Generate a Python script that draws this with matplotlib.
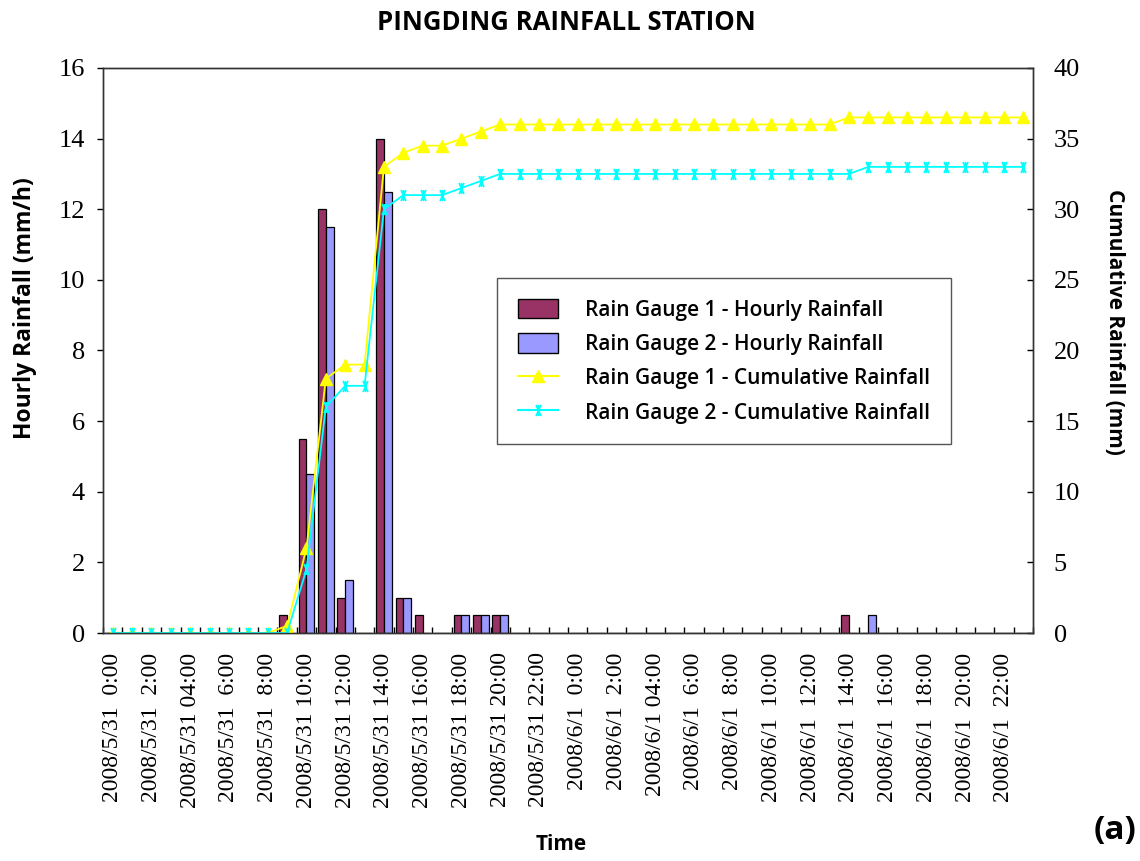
import numpy as np
import matplotlib
matplotlib.use("Agg")
import matplotlib.pyplot as plt
from matplotlib.path import Path
from matplotlib.patches import Patch
from matplotlib.lines import Line2D

# hourly categories 2008/5/31 00:00 .. 2008/6/1 23:00 (48 bins), label every 2 h
tick_labels = ["2008/5/31  0:00", "2008/5/31  2:00", "2008/5/31 04:00", "2008/5/31  6:00",
               "2008/5/31  8:00", "2008/5/31 10:00", "2008/5/31 12:00", "2008/5/31 14:00",
               "2008/5/31 16:00", "2008/5/31 18:00", "2008/5/31 20:00", "2008/5/31 22:00",
               "2008/6/1  0:00", "2008/6/1  2:00", "2008/6/1 04:00", "2008/6/1  6:00",
               "2008/6/1  8:00", "2008/6/1  10:00", "2008/6/1  12:00", "2008/6/1  14:00",
               "2008/6/1  16:00", "2008/6/1  18:00", "2008/6/1  20:00", "2008/6/1  22:00"]

gauge1_hourly = [0, 0, 0, 0, 0, 0, 0, 0, 0, 0.5,
                 5.5, 12, 1, 0, 14, 1, 0.5, 0, 0.5, 0.5,
                 0.5, 0, 0, 0, 0, 0, 0, 0, 0, 0,
                 0, 0, 0, 0, 0, 0, 0, 0, 0.5, 0,
                 0, 0, 0, 0, 0, 0, 0, 0]
gauge2_hourly = [0, 0, 0, 0, 0, 0, 0, 0, 0, 0,
                 4.5, 11.5, 1.5, 0, 12.5, 1, 0, 0, 0.5, 0.5,
                 0.5, 0, 0, 0, 0, 0, 0, 0, 0, 0,
                 0, 0, 0, 0, 0, 0, 0, 0, 0, 0.5,
                 0, 0, 0, 0, 0, 0, 0, 0]
gauge1_cum = [0, 0, 0, 0, 0, 0, 0, 0, 0, 0.5,
              6, 18, 19, 19, 33, 34, 34.5, 34.5, 35, 35.5,
              36, 36, 36, 36, 36, 36, 36, 36, 36, 36,
              36, 36, 36, 36, 36, 36, 36, 36, 36.5, 36.5,
              36.5, 36.5, 36.5, 36.5, 36.5, 36.5, 36.5, 36.5]
gauge2_cum = [0, 0, 0, 0, 0, 0, 0, 0, 0, 0,
              4.5, 16, 17.5, 17.5, 30, 31, 31, 31, 31.5, 32,
              32.5, 32.5, 32.5, 32.5, 32.5, 32.5, 32.5, 32.5, 32.5, 32.5,
              32.5, 32.5, 32.5, 32.5, 32.5, 32.5, 32.5, 32.5, 32.5, 33,
              33, 33, 33, 33, 33, 33, 33, 33]

MAROON, LAV, YEL, CYAN = "#993366", "#9999ff", "#ffff00", "#00ffff"
SANS = "Open Sans"
SERIF = "Liberation Serif"

# excel-like "star" marker: an x with a vertical stroke
star = Path([(-0.45, -1), (0.45, 1), (-0.45, 1), (0.45, -1), (0, -1), (0, 1)],
            [Path.MOVETO, Path.LINETO] * 3)

fig = plt.figure(figsize=(11.4, 8.61), dpi=100)
ax = fig.add_axes([103/1140, 1-633/861, 930/1140, 565/861])
ax2 = ax.twinx()

x = np.arange(len(gauge1_hourly))
w = 0.4
ax.bar(x - w/2, gauge1_hourly, w, color=MAROON, edgecolor="black", lw=0.9)
ax.bar(x + w/2, gauge2_hourly, w, color=LAV, edgecolor="black", lw=0.9)
ax.set_xlim(-0.5, len(x) - 0.5)
ax.set_ylim(0, 16)
ax.set_yticks(np.arange(0, 17, 2))

# ticks at category boundaries, labels at even-hour centres
ax.set_xticks(np.arange(-0.5, len(x)), labels=[])
ax.set_xticks(x[::2], labels=tick_labels, minor=True)
ax.tick_params(axis="x", which="major", direction="in", length=4, width=1)
ax.tick_params(axis="x", which="minor", length=0, pad=14)
for t in ax.get_xticklabels(minor=True):
    t.set_rotation(90); t.set_fontfamily(SERIF); t.set_fontsize(17)
ax.tick_params(axis="y", direction="out", length=4, width=1, pad=9, labelsize=19)
for t in ax.get_yticklabels():
    t.set_fontfamily(SERIF)

ax2.plot(x, gauge1_cum, color=YEL, lw=1.3, marker="^", ms=8, mec=YEL, mfc=YEL)
ax2.plot(x, gauge2_cum, color=CYAN, lw=1.3, marker=star, ms=8, mec=CYAN, mew=1.2)
ax2.set_ylim(0, 40)
ax2.set_yticks(np.arange(0, 41, 5))
ax2.tick_params(axis="y", direction="in", length=4, width=1, pad=15, labelsize=19)
for t in ax2.get_yticklabels():
    t.set_fontfamily(SERIF)
for a in (ax, ax2):
    for s in a.spines.values():
        s.set_linewidth(1.0); s.set_color("#333333")

ax.set_ylabel("Hourly Rainfall (mm/h)", fontfamily=SANS, fontweight="bold", fontsize=16.5, va="center")
ax.yaxis.set_label_coords(-0.084, 0.575)
ax2.set_ylabel("Cumulative Rainfall (mm)", fontfamily=SANS, fontweight="bold", fontsize=15,
               rotation=270, va="center")
ax2.yaxis.set_label_coords(1.088, 0.55)
fig.text(0.492, 1-845/861, "Time", fontfamily=SANS, fontweight="bold", fontsize=15, ha="center", va="center")
fig.text(0.978, 1-830/861, "(a)", fontfamily=SANS, fontweight="bold", fontsize=24, ha="center", va="center")
fig.text(0.497, 1-22/861, "PINGDING RAINFALL STATION", fontfamily=SANS, fontweight="bold",
         fontsize=18.5, ha="center", va="center")

handles = [Patch(facecolor=MAROON, edgecolor="black"),
           Patch(facecolor=LAV, edgecolor="black"),
           Line2D([], [], color=YEL, marker="^", ms=8, mec=YEL),
           Line2D([], [], color=CYAN, marker=star, ms=8, mew=1.2)]
labels = ["Rain Gauge 1 - Hourly Rainfall", "Rain Gauge 2 - Hourly Rainfall",
          "Rain Gauge 1 - Cumulative Rainfall", "Rain Gauge 2 - Cumulative Rainfall"]
leg = ax2.legend(handles, labels, loc="upper left", bbox_to_anchor=(0.424, 0.628),
                 frameon=True, fancybox=False, edgecolor="#555555", framealpha=1,
                 prop={"family": SANS, "weight": "semibold", "size": 15},
                 handlelength=1.9, handleheight=1.05, labelspacing=0.6,
                 borderpad=1.0, handletextpad=1.3, borderaxespad=0)
leg.get_frame().set_linewidth(1.0)

fig.savefig("out.png", dpi=100)
